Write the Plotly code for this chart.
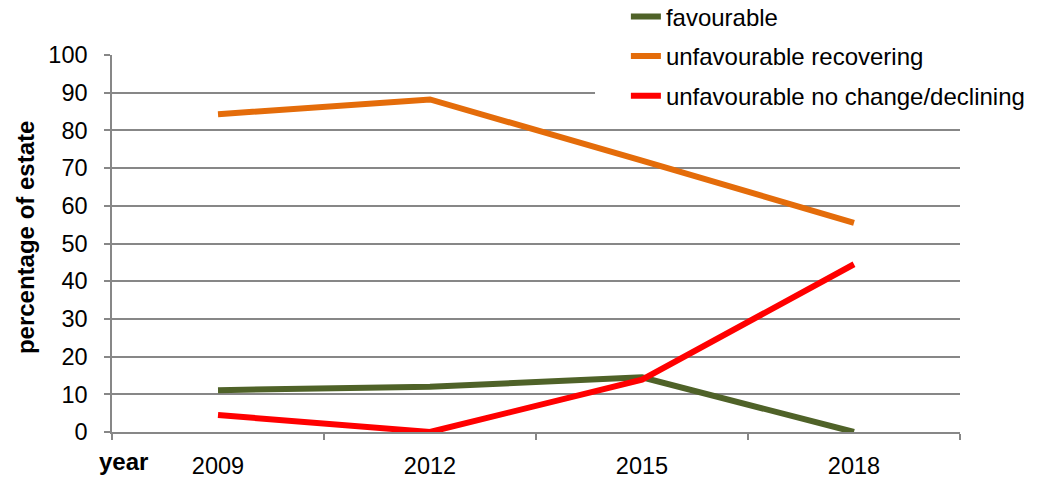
import plotly.graph_objects as go

years = ["2009", "2012", "2015", "2018"]
favourable = [11.1, 12.0, 14.5, 0.0]
unfav_recovering = [84.3, 88.2, 72.0, 55.5]
unfav_declining = [4.5, 0.0, 13.9, 44.5]

series = [
    ("favourable", favourable, "#4F6228"),
    ("unfavourable recovering", unfav_recovering, "#E46C0A"),
    ("unfavourable no change/declining", unfav_declining, "#FF0000"),
]

FONT = "Liberation Sans, Arial, sans-serif"
GRID = "#878787"

fig = go.Figure()
for name, vals, col in series:
    fig.add_trace(go.Scatter(
        x=years, y=vals, name=name, mode="lines",
        legendgroup=name,
        line=dict(color=col, width=6),
    ))

fig.update_layout(
    width=1043, height=479,
    margin=dict(l=112, r=83, t=55, b=47, autoexpand=False),
    paper_bgcolor="white", plot_bgcolor="white",
    font=dict(family=FONT, size=23, color="black"),
    showlegend=True,
    legend=dict(
        x=0.606, y=1.161, xanchor="left", yanchor="top",
        bgcolor="rgba(0,0,0,0)", font=dict(family=FONT, size=24, color="black"),
        traceorder="grouped", tracegroupgap=5.5, itemwidth=30,
    ),
    xaxis=dict(
        type="category", range=[-0.5, 3.5],
        showgrid=False, showline=True, linecolor=GRID, linewidth=1.5,
        ticks="outside", tickson="boundaries", ticklen=6, tickcolor=GRID, tickwidth=1.5,
        tickfont=dict(family=FONT, size=23.5, color="black"),
        ticklabelstandoff=12,
        fixedrange=True, automargin=False,
    ),
    yaxis=dict(
        range=[0, 100], dtick=10, tick0=0,
        showgrid=True, gridcolor=GRID, gridwidth=1.5,
        showline=True, linecolor=GRID, linewidth=1.5,
        ticks="outside", ticklen=6, tickcolor=GRID, tickwidth=1.5,
        tickfont=dict(family=FONT, size=23.5, color="black"),
        ticklabelstandoff=12,
        zeroline=False, automargin=False,
    ),
    shapes=[
        # white legend background box covering the gridlines behind the legend
        dict(type="rect", xref="paper", yref="paper",
             x0=0.5696, x1=1.12, y0=0.85, y1=1.16,
             fillcolor="white", line=dict(width=0), layer="above"),
    ],
    annotations=[
        dict(text="<b>percentage of estate</b>", textangle=-90,
             xref="paper", yref="paper", x=-0.1026, y=0.517,
             xanchor="center", yanchor="middle", showarrow=False,
             font=dict(family=FONT, size=24, color="black")),
        dict(text="<b>year</b>",
             xref="paper", yref="paper", x=0.013, y=-0.078,
             xanchor="center", yanchor="middle", showarrow=False,
             font=dict(family=FONT, size=24, color="black")),
    ],
)

fig.write_html(
    "out.html",
    config={"displayModeBar": False},
    post_script="document.body.style.margin='0';document.body.style.overflow='hidden';",
)
